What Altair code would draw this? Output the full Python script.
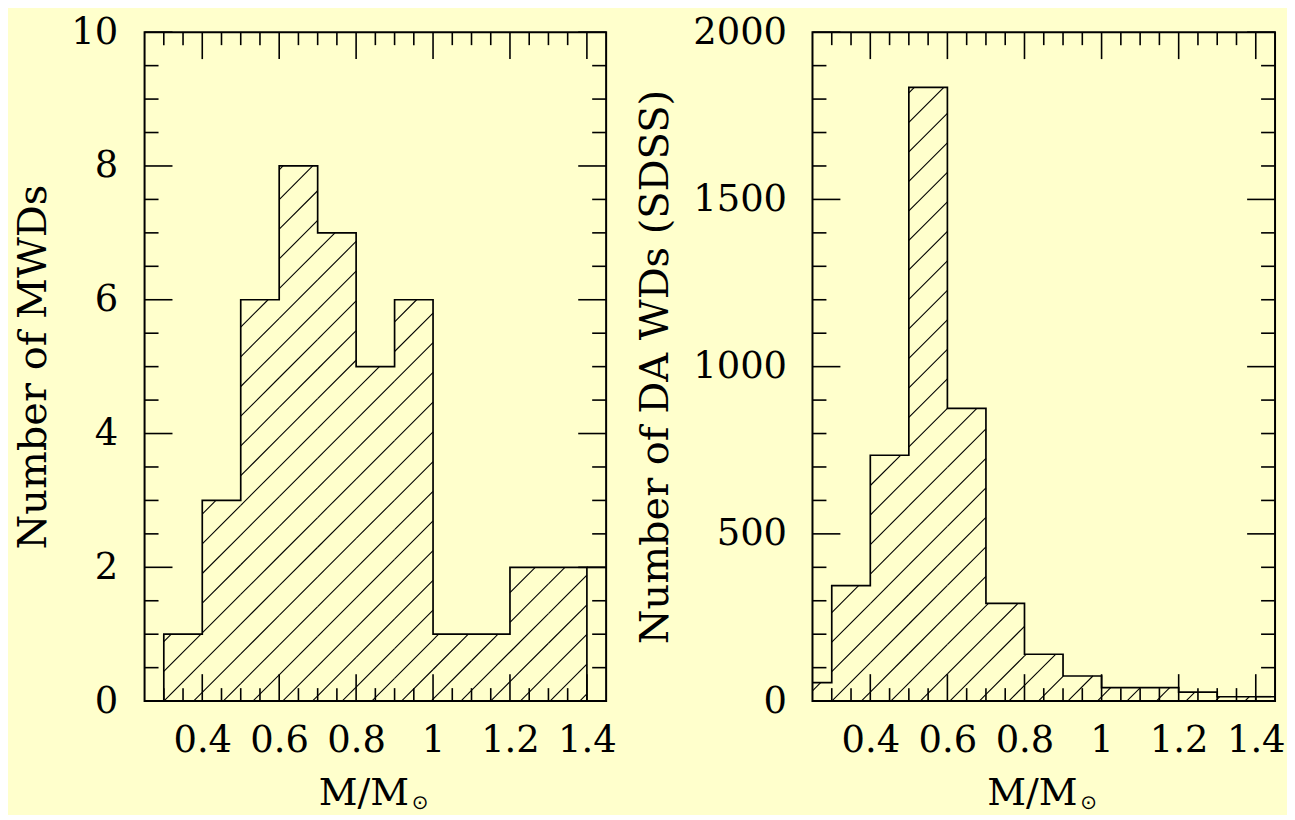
import math
import altair as alt
import pandas as pd

# ---------------- data ----------------
mwd_edges = [0.3, 0.4, 0.5, 0.6, 0.7, 0.8, 0.9, 1.0, 1.1, 1.2, 1.3, 1.4]
mwd_counts = [1, 3, 6, 8, 7, 5, 6, 1, 1, 2, 2]

sdss_edges = [0.2, 0.3, 0.4, 0.5, 0.6, 0.7, 0.8, 0.9, 1.0, 1.1, 1.2, 1.3, 1.4]
sdss_counts = [55, 345, 735, 1835, 875, 292, 140, 75, 40, 40, 27, 13]

x_major = [0.4, 0.6, 0.8, 1.0, 1.2, 1.4]
x_minor = [0.3, 0.35, 0.45, 0.5, 0.55, 0.65, 0.7, 0.75, 0.85, 0.9, 0.95,
           1.05, 1.1, 1.15, 1.25, 1.3, 1.35]
left_y_major = [0, 2, 4, 6, 8, 10]
left_y_minor = [0.5, 1, 1.5, 2.5, 3, 3.5, 4.5, 5, 5.5, 6.5, 7, 7.5, 8.5, 9, 9.5]
right_y_major = [0, 500, 1000, 1500, 2000]
right_y_minor = [100, 200, 300, 400, 600, 700, 800, 900, 1100, 1200, 1300,
                 1400, 1600, 1700, 1800, 1900]

x_domain = [0.25, 1.45]
left_y_domain = [0, 10]
right_y_domain = [0, 2000]

left_ytitle = "Number of MWDs"
right_ytitle = "Number of DA WDs (SDSS)"
x_title = "M/M"
sun = "⊙"

# ---------------- style ----------------
BG = "#ffffcc"
FONT = "DejaVu Serif"
LABEL_SIZE = 37
TITLE_SIZE = 40
H = 671


def hatch_rows(edges, counts, ydom, W, spacing):
    x0, x1 = x_domain
    def px(x):
        return (x - x0) / (x1 - x0) * W
    def ix(p):
        return x0 + p / W * (x1 - x0)
    def py(y):
        return y / ydom[1] * H
    def iy(p):
        return p / H * ydom[1]
    c0 = px(0.3)
    rows = []
    for i, h in enumerate(counts):
        a = max(px(edges[i]), 0.0)
        b = min(px(edges[i + 1]), W)
        hp = py(h)
        if b <= a:
            continue
        kmin = math.floor((a - hp - c0) / spacing) - 1
        kmax = math.ceil((b - c0) / spacing) + 1
        for k in range(kmin, kmax + 1):
            c = c0 + k * spacing
            s = max(a, c)
            e = min(b, c + hp)
            if e > s + 0.3:
                rows.append({"x": ix(s), "y": iy(s - c), "x2": ix(e), "y2": iy(e - c)})
    return pd.DataFrame(rows)


def outline_rows(edges, counts):
    pts = [(edges[0], 0)]
    for i, h in enumerate(counts):
        pts.append((edges[i], h))
        pts.append((edges[i + 1], h))
    pts.append((edges[-1], 0))
    return pd.DataFrame({"x": [p[0] for p in pts], "y": [p[1] for p in pts],
                         "i": list(range(len(pts)))})


def panel(edges, counts, ydom, y_major, y_minor, ytitle, W, spacing, label_pad_y, title_pad_y):
    xs = alt.Scale(domain=x_domain, nice=False, zero=False)
    ys = alt.Scale(domain=ydom, nice=False, zero=False)
    ax_x = alt.Axis(
        values=x_major, format="~g", ticks=False, domain=False, grid=False,
        labelFlush=False, labelOverlap=False, labelPadding=22,
        labelFont=FONT, labelFontSize=LABEL_SIZE, labelColor="black",
        title=x_title, titleFont=FONT, titleFontSize=38,
        titleFontWeight="normal", titleColor="black", titlePadding=16,
        titleX=W / 2 - 12)
    ax_y = alt.Axis(
        values=y_major, format="d", ticks=False, domain=False, grid=False,
        labelPadding=label_pad_y, labelFont=FONT, labelFontSize=LABEL_SIZE,
        labelColor="black", labelFlush=False, labelOverlap=False,
        title=ytitle, titleFont=FONT, titleFontSize=TITLE_SIZE,
        titleFontWeight="normal", titleColor="black", titlePadding=title_pad_y)

    hatch = alt.Chart(hatch_rows(edges, counts, ydom, W, spacing)).mark_rule(
        color="black", strokeWidth=1.1, clip=True
    ).encode(
        x=alt.X("x:Q", scale=xs, axis=ax_x),
        y=alt.Y("y:Q", scale=ys, axis=ax_y),
        x2="x2:Q",
        y2="y2:Q",
    )

    outline = alt.Chart(outline_rows(edges, counts)).mark_line(
        color="black", strokeWidth=1.7, clip=True
    ).encode(
        x=alt.X("x:Q", scale=xs, axis=ax_x),
        y=alt.Y("y:Q", scale=ys, axis=ax_y),
        order=alt.Order("i:Q"),
    )

    ext = alt.Chart(pd.DataFrame({"x": [edges[-1]], "y": [counts[-1]]})).mark_rule(
        color="black", strokeWidth=1.7, clip=True
    ).encode(
        x=alt.X("x:Q", scale=xs, axis=ax_x),
        x2=alt.value(W),
        y=alt.Y("y:Q", scale=ys, axis=ax_y),
    )

    def xticks(vals, y1, y2):
        return alt.Chart(pd.DataFrame({"x": vals})).mark_rule(
            color="black", strokeWidth=1.6
        ).encode(x=alt.X("x:Q", scale=xs, axis=ax_x), y=alt.value(y1), y2=alt.value(y2))

    def yticks(vals, x1, x2):
        return alt.Chart(pd.DataFrame({"y": vals})).mark_rule(
            color="black", strokeWidth=1.6
        ).encode(y=alt.Y("y:Q", scale=ys, axis=ax_y), x=alt.value(x1), x2=alt.value(x2))

    ticks = [
        xticks(x_major, H, H - 27), xticks(x_minor, H, H - 13),
        xticks(x_major, 0, 27), xticks(x_minor, 0, 13),
        yticks(y_major, 0, 28), yticks(y_minor, 0, 14),
        yticks(y_major, W, W - 28), yticks(y_minor, W, W - 14),
    ]

    sun_txt = alt.Chart(pd.DataFrame({"t": [sun]})).mark_text(
        font="DejaVu Sans", fontSize=20, color="black", align="center", baseline="middle"
    ).encode(text="t:N", x=alt.value(W / 2 + 45), y=alt.value(H + 102))

    return alt.layer(hatch, outline, ext, *ticks, sun_txt).properties(width=W, height=H)


left = panel(mwd_edges, mwd_counts, left_y_domain, left_y_major, left_y_minor,
             left_ytitle, 463, 29.8, 27, 17)
right = panel(sdss_edges, sdss_counts, right_y_domain, right_y_major, right_y_minor,
              right_ytitle, 464, 29.6, 26, 17)

chart = alt.hconcat(left, right, spacing=16).properties(
    background=BG,
    padding={"left": 4, "top": 3, "right": 0, "bottom": 0},
).configure_view(
    stroke="black", strokeWidth=2, fill=BG
).resolve_scale(x="independent", y="independent")

chart.save("out.html", embed_options={"renderer": "svg", "actions": False})
